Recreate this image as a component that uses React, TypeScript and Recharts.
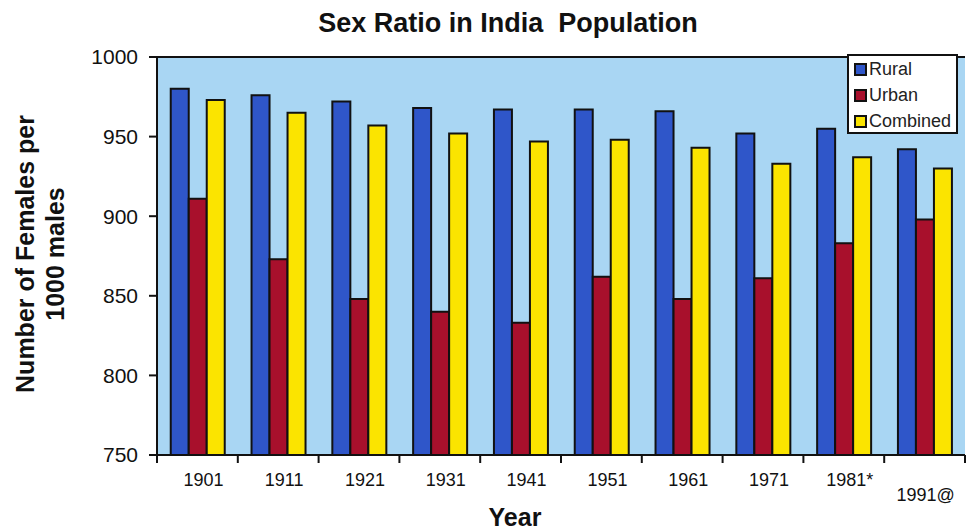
import React from "react";
import {
  BarChart,
  Bar,
  XAxis,
  YAxis,
  CartesianGrid,
  ReferenceLine,
} from "recharts";

// census years on the x axis
const years = ["1901", "1911", "1921", "1931", "1941", "1951", "1961", "1971", "1981*", "1991@"];

// females per 1000 males
const rural = [980, 976, 972, 968, 967, 967, 966, 952, 955, 942];
const urban = [911, 873, 848, 840, 833, 862, 848, 861, 883, 898];
const combined = [973, 965, 957, 952, 947, 948, 943, 933, 937, 930];

const yTicks = [750, 800, 850, 900, 950, 1000];

const series = [
  { key: "rural", name: "Rural", color: "#2f56c9" },
  { key: "urban", name: "Urban", color: "#a8102c" },
  { key: "combined", name: "Combined", color: "#fbe400" },
];

const data = years.map((year, i) => ({
  year,
  rural: rural[i],
  urban: urban[i],
  combined: combined[i],
}));

const FONT = "'Liberation Sans', Arial, Helvetica, sans-serif";
const W = 968;
const H = 529;
const BAND = 808 / years.length;

function YearTick(props: any) {
  const { x, y, payload, index } = props;
  const last = index === years.length - 1;
  return (
    <g>
      <line x1={x - BAND / 2} x2={x - BAND / 2} y1={y} y2={y + 8} stroke="#111" strokeWidth={2} />
      {last && (
        <line x1={x + BAND / 2} x2={x + BAND / 2} y1={y} y2={y + 8} stroke="#111" strokeWidth={2} />
      )}
      <text
        x={x + (last ? 1 : 6)}
        y={y + (last ? 41 : 26)}
        textAnchor="middle"
        dominantBaseline="middle"
        fontSize={18}
        fill="#111"
        fontFamily={FONT}
      >
        {payload.value}
      </text>
    </g>
  );
}

export default function App() {
  return (
    <div
      style={{
        position: "absolute",
        left: 0,
        top: 0,
        width: W,
        height: H,
        background: "#fff",
        fontFamily: FONT,
        overflow: "hidden",
      }}
    >
      <div
        style={{
          position: "absolute",
          top: 23,
          left: 508,
          transform: "translate(-50%, -50%)",
          fontSize: 27,
          lineHeight: 1,
          fontWeight: "bold",
          color: "#111",
          whiteSpace: "pre",
        }}
      >
        {"Sex Ratio in India  Population"}
      </div>

      <BarChart
        width={W}
        height={H}
        data={data}
        margin={{ top: 57, right: 3, bottom: 34, left: 87 }}
        barCategoryGap="17%"
        barGap={0}
      >
        <CartesianGrid horizontal={false} vertical={false} fill="#a9d6f3" stroke="none" />
        <XAxis
          dataKey="year"
          height={40}
          axisLine={{ stroke: "#111", strokeWidth: 2 }}
          tickLine={false}
          tickSize={0}
          tickMargin={0}
          interval={0}
          tick={<YearTick />}
        />
        <YAxis
          width={70}
          domain={[750, 1000]}
          ticks={yTicks}
          allowDataOverflow
          axisLine={{ stroke: "#111", strokeWidth: 2 }}
          tickLine={{ stroke: "#111", strokeWidth: 2 }}
          tickSize={8}
          tickMargin={11}
          tick={{ fontSize: 21, fill: "#111", fontFamily: FONT }}
        />
        <ReferenceLine y={1000} stroke="#111" strokeWidth={2} />
        {series.map((s) => (
          <Bar
            key={s.key}
            dataKey={s.key}
            name={s.name}
            fill={s.color}
            stroke="#111"
            strokeWidth={2}
            isAnimationActive={false}
          />
        ))}
      </BarChart>

      <div
        style={{
          position: "absolute",
          left: 847,
          top: 54,
          width: 111,
          height: 80,
          padding: "0 0 0 5px",
          background: "#fff",
          border: "2px solid #111",
          boxSizing: "border-box",
        }}
      >
        {series.map((s) => (
          <div
            key={s.key}
            style={{ display: "flex", alignItems: "center", height: 26, fontSize: 18, color: "#222" }}
          >
            <span
              style={{
                display: "inline-block",
                width: 9,
                height: 9,
                marginRight: 2,
                background: s.color,
                border: "2px solid #111",
              }}
            />
            {s.name}
          </div>
        ))}
      </div>

      <div
        style={{
          position: "absolute",
          left: 40,
          top: 254,
          transform: "translate(-50%, -50%) rotate(-90deg)",
          textAlign: "center",
          fontSize: 25,
          fontWeight: "bold",
          lineHeight: "30px",
          color: "#111",
          whiteSpace: "nowrap",
        }}
      >
        Number of Females per
        <br />
        1000 males
      </div>

      <div
        style={{
          position: "absolute",
          left: 515,
          top: 517,
          transform: "translate(-50%, -50%)",
          fontSize: 25,
          lineHeight: 1,
          fontWeight: "bold",
          color: "#111",
        }}
      >
        Year
      </div>
    </div>
  );
}
